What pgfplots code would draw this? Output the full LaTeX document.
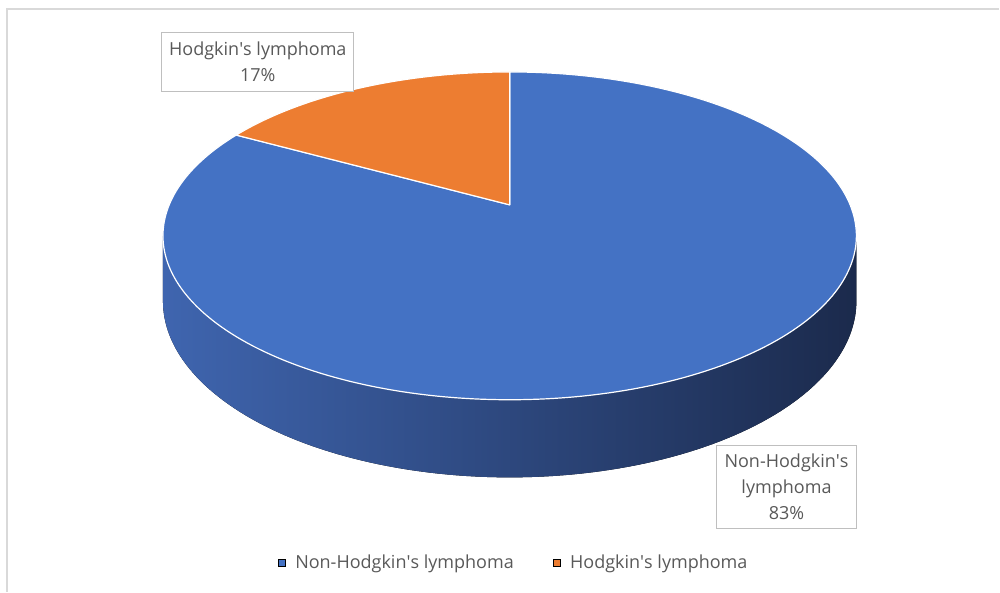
\documentclass[border=0pt]{standalone}
\usepackage{pgfplots}
\pgfplotsset{compat=1.18}
\usepackage{pgfplotstable}
\usepackage{fontspec}
\setmainfont{Open Sans}
\newcommand\ap{\textquotesingle}
\definecolor{pieblue}{HTML}{4472C4}
\definecolor{pieorange}{HTML}{ED7D31}
\definecolor{sideL}{HTML}{3F65AF}
\definecolor{sideM}{HTML}{294679}
\definecolor{sideR}{HTML}{1B2A4C}
\definecolor{txt}{HTML}{595959}
\definecolor{framec}{HTML}{D9D9D9}
\definecolor{boxc}{HTML}{BFBFBF}

\pgfplotstableread[col sep=comma]{
label,value
Non-Hodgkin's lymphoma,83
Hodgkin's lymphoma,17
}\piedata
\pgfplotstablegetelem{0}{value}\of\piedata
\let\vNH\pgfplotsretval
\pgfplotstablegetelem{1}{value}\of\piedata
\let\vH\pgfplotsretval
\pgfmathsetmacro\fracNH{\vNH/(\vNH+\vH)}
\pgfmathsetmacro\splitA{90-360*\fracNH}
\pgfmathsetmacro\splitB{\splitA+360}
% perspective ellipse parameters (pixel units)
\def\cx{510}\def\A{340.7}\def\B{231.3}\def\C{387}\def\P{0.189}\def\D{63}

\begin{document}
\begin{tikzpicture}
\begin{axis}[width=1000pt,height=592pt,scale only axis,
  xmin=0,xmax=1000,ymin=0,ymax=592,hide axis,clip=false,
  legend columns=2,
  legend style={draw=none,fill=none,at={(axis cs:514,29)},anchor=center,
    text=txt,font=\fontsize{18}{22}\selectfont,
    /tikz/every even column/.append style={column sep=37pt}},
  legend image code/.code={\fill[#1] (0pt,-3.5pt) rectangle (7pt,3.5pt);\path (0pt,0pt) (15pt,0pt);}]
\path (0,0) rectangle (1000,592);
\draw[framec,line width=1.3pt] (7,0) -- (7,583) -- (1000,583);
% side wall
\fill[left color=sideL,middle color=sideM,right color=sideR]
  plot[domain=190.9:349.1,samples=120,variable=\q]
    ({\cx+\A*cos(\q)/(1+\P*sin(\q))},{(\B*sin(\q)+\C)/(1+\P*sin(\q))})
  -- plot[domain=349.1:190.9,samples=120,variable=\q]
    ({\cx+\A*cos(\q)/(1+\P*sin(\q))},{(\B*sin(\q)+\C-\D)/(1+\P*sin(\q))})
  -- cycle;
% top face: Non-Hodgkin's
\filldraw[fill=pieblue,draw=white,line width=1.2pt,line join=round]
  (\cx,\C) -- plot[domain=\splitA:90,samples=240,variable=\q]
    ({\cx+\A*cos(\q)/(1+\P*sin(\q))},{(\B*sin(\q)+\C)/(1+\P*sin(\q))})
  -- cycle;
% top face: Hodgkin's
\filldraw[fill=pieorange,draw=white,line width=1.2pt,line join=round]
  (\cx,\C) -- plot[domain=90:\splitB,samples=60,variable=\q]
    ({\cx+\A*cos(\q)/(1+\P*sin(\q))},{(\B*sin(\q)+\C)/(1+\P*sin(\q))})
  -- cycle;
% data labels
\node[draw=boxc,fill=white,line width=0.8pt,minimum width=192pt,minimum height=59pt,
  inner sep=0pt,align=center,text=txt,font=\fontsize{18}{26}\selectfont]
  at (258,530.5) {Hodgkin\ap s lymphoma\\17\%};
\node[draw=boxc,fill=white,line width=0.8pt,minimum width=140pt,minimum height=83pt,
  inner sep=0pt,align=center,text=txt,font=\fontsize{18}{26}\selectfont]
  at (787,104.5) {Non-Hodgkin\ap s\\lymphoma\\83\%};
\addlegendimage{fill=pieblue}
\addlegendentry{Non-Hodgkin\ap s lymphoma}
\addlegendimage{fill=pieorange}
\addlegendentry{Hodgkin\ap s lymphoma}
\end{axis}
\end{tikzpicture}
\end{document}
